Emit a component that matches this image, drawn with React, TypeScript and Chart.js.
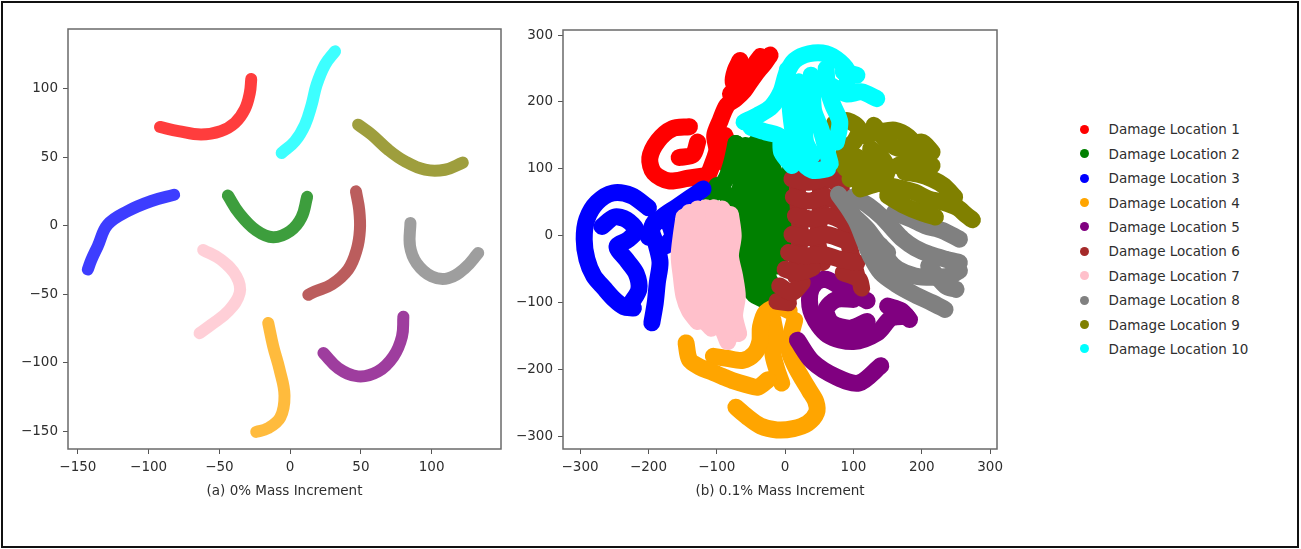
import React, { useEffect, useRef } from 'react';
import { Chart, registerables } from 'chart.js';

Chart.register(...registerables);

type Pt = [number, number];

const damageLabels = [
  'Damage Location 1', 'Damage Location 2', 'Damage Location 3', 'Damage Location 4', 'Damage Location 5',
  'Damage Location 6', 'Damage Location 7', 'Damage Location 8', 'Damage Location 9', 'Damage Location 10',
];
const damageColors = ['#ff0000', '#008000', '#0000ff', '#ffa500', '#800080', '#a52a2a', '#ffc0cb', '#808080', '#808000', '#00ffff'];

const leftTicksX = [-150, -100, -50, 0, 50, 100];
const leftTicksY = [-150, -100, -50, 0, 50, 100];
const rightTicksX = [-300, -200, -100, 0, 100, 200, 300];
const rightTicksY = [-300, -200, -100, 0, 100, 200, 300];

// (a) 0% mass increment: one smooth band per damage location
const leftLoc1: Pt[] = [[-92, 72], [-79, 69], [-63, 66.5], [-49, 69], [-39, 75], [-32, 85], [-28.5, 97], [-27.5, 107]];
const leftLoc2: Pt[] = [[-44, 22], [-36, 9], [-24, -3.5], [-12, -8.5], [0, -4], [8, 6], [12, 21]];
const leftLoc3: Pt[] = [[-82, 22.5], [-98, 18], [-115, 10.5], [-129, 0.7], [-136, -15], [-140.5, -25], [-143, -32]];
const leftLoc4: Pt[] = [[-15.5, -71], [-12, -88], [-7.5, -105], [-4, -124], [-7, -140], [-16, -148], [-24, -150.5]];
const leftLoc5: Pt[] = [[23.5, -93], [34, -104], [48, -110], [62, -106.5], [73, -95.5], [79, -81], [80, -66.5]];
const leftLoc6: Pt[] = [[46.5, 25], [48.8, 11.5], [49.3, -3], [47, -17.7], [41, -32], [29.3, -43], [17.5, -48], [12.8, -50.5]];
const leftLoc7: Pt[] = [[-61.5, -17.7], [-48.7, -25], [-38, -37], [-35.7, -49.3], [-44, -62.7], [-55.8, -72.4], [-64, -78.5]];
const leftLoc8: Pt[] = [[85, 2], [84.7, -15], [89.4, -27.4], [100, -37], [111.7, -38.4], [123.5, -31], [132.9, -20]];
const leftLoc9: Pt[] = [[48, 73.7], [57.6, 66.4], [69.3, 55.4], [81, 47], [95.3, 40.8], [109.4, 40.8], [122, 46]];
const leftLoc10: Pt[] = [[-6, 53], [3.4, 61.6], [10.5, 73.7], [15.2, 88.3], [18.7, 102.8], [24.6, 117.4], [31.7, 127.2]];

// (b) 0.1% mass increment: each location is a set of thick strokes
const rightLoc1: Pt[][] = [
  [[-22, 270], [-30, 258], [-40, 246], [-50, 232], [-60, 217], [-72, 205], [-85, 195], [-95, 172], [-103, 150], [-100, 128], [-106, 108], [-112, 92]],
  [[-36, 268], [-46, 254], [-56, 240], [-66, 226], [-80, 212]],
  [[-66, 262], [-73, 247], [-76, 230], [-68, 214]],
  [[-140, 163], [-165, 160], [-186, 142], [-198, 116], [-192, 94], [-170, 82], [-142, 86], [-116, 90]],
  [[-155, 117], [-135, 121], [-128, 140]],
  [[-88, 150], [-82, 128], [-88, 108]],
];
const rightLoc2: Pt[][] = [
  [[-72, 138], [-78, 110], [-86, 86], [-98, 68], [-110, 60]],
  [[-100, 75], [-85, 60], [-80, 35]],
  [[-72, 138], [-68, 110], [-64, 80], [-72, 50], [-78, 20], [-75, -10], [-70, -40], [-60, -68], [-45, -88], [-32, -95]],
  [[-58, 135], [-56, 105], [-54, 78], [-60, 50], [-64, 20], [-60, -10], [-60, -40], [-52, -65]],
  [[-42, 140], [-46, 110], [-40, 80], [-48, 50], [-52, 20], [-45, -10], [-50, -40], [-40, -70]],
  [[-28, 136], [-32, 110], [-28, 85], [-36, 60], [-36, 30], [-30, 0], [-32, -30], [-38, -60], [-30, -82]],
  [[-14, 132], [-20, 110], [-14, 85], [-24, 60], [-20, 30], [-12, 0], [-18, -30], [-25, -60], [-15, -80]],
  [[4, 125], [8, 100], [0, 78], [-4, 50], [4, 20], [-4, -15], [-10, -45]],
];
const rightLoc3: Pt[][] = [
  [[-200, 42], [-225, 60], [-252, 64], [-275, 50], [-290, 25], [-294, -5], [-290, -35], [-280, -60], [-265, -78], [-250, -95], [-236, -106], [-222, -108]],
  [[-268, 14], [-250, 28], [-232, 24], [-218, 8], [-230, -6], [-246, -16], [-232, -36], [-218, -56], [-214, -80], [-225, -100]],
  [[-120, 70], [-140, 56], [-160, 42], [-180, 28], [-195, 10], [-188, -15], [-183, -40], [-187, -70], [-190, -100], [-195, -130]],
  [[-200, -2], [-190, 22], [-172, 20], [-165, 0], [-175, -15]],
];
const rightLoc4: Pt[][] = [
  [[-145, -160], [-140, -185], [-125, -196], [-108, -203], [-92, -210], [-75, -217], [-58, -222], [-40, -226], [-25, -215]],
  [[-105, -180], [-85, -183], [-62, -186], [-45, -176], [-37, -158], [-36, -136], [-28, -114], [-10, -106], [6, -112]],
  [[14, -126], [8, -150], [6, -172], [15, -195], [26, -215], [36, -232], [45, -248], [46, -264], [33, -280], [12, -288], [-12, -290], [-36, -284], [-56, -270], [-72, -256]],
  [[-18, -125], [-14, -150], [-18, -175], [-12, -200], [-5, -220]],
];
const rightLoc5: Pt[][] = [
  [[120, -97], [90, -82], [60, -65], [45, -70], [36, -88], [40, -118], [62, -148], [100, -158], [135, -145], [155, -123], [178, -120]],
  [[100, -95], [75, -95], [60, -110], [68, -130], [95, -138], [120, -128]],
  [[18, -156], [40, -188], [75, -211], [108, -220], [140, -194]],
  [[150, -105], [170, -112], [182, -125]],
];
const rightLoc6: Pt[][] = [
  [[8, 108], [30, 106], [52, 108], [72, 100]],
  [[10, 85], [35, 80], [60, 86], [82, 75]],
  [[12, 58], [35, 52], [60, 58], [88, 45]],
  [[15, 30], [40, 25], [65, 30], [92, 18]],
  [[10, 2], [35, -3], [60, 2], [95, -10]],
  [[5, -25], [30, -30], [55, -28], [80, -35], [105, -40]],
  [[0, -50], [20, -55], [40, -48]],
  [[85, -55], [108, -65], [112, -78]],
  [[-8, -75], [10, -85], [25, -70]],
  [[-12, -98], [5, -100]],
  [[20, 110], [18, 60], [22, 0], [15, -60]],
  [[50, 108], [52, 50], [48, -10], [55, -40]],
  [[80, 95], [85, 40], [95, -20], [105, -60]],
];
const rightLoc7: Pt[][] = [
  [[-148, 28], [-152, 0], [-155, -30], [-152, -60], [-148, -90], [-140, -112], [-128, -128]],
  [[-140, 35], [-142, 0], [-140, -40], [-138, -80], [-130, -110]],
  [[-128, 40], [-130, 12], [-127, -18], [-134, -48], [-124, -72], [-118, -96], [-124, -118], [-108, -138]],
  [[-116, 42], [-114, 0], [-118, -40], [-110, -80], [-112, -120]],
  [[-104, 42], [-100, 12], [-108, -20], [-100, -50], [-97, -80], [-104, -106], [-94, -132], [-84, -158]],
  [[-92, 40], [-88, 0], [-90, -40], [-86, -80], [-88, -120], [-80, -150]],
  [[-80, 32], [-76, 0], [-80, -30], [-74, -60], [-70, -90], [-74, -120], [-68, -146]],
];
const rightLoc8: Pt[][] = [
  [[78, 62], [92, 42], [105, 20], [115, -5], [125, -30], [140, -55], [162, -72], [190, -88], [215, -100], [234, -110]],
  [[100, 58], [122, 45], [142, 28], [158, 10], [172, -5], [190, -18], [212, -28], [235, -35], [255, -40]],
  [[100, 30], [120, 10], [135, -10], [150, -25]],
  [[140, -15], [150, -35], [165, -50], [190, -60], [215, -62], [240, -60], [255, -52]],
  [[160, 35], [185, 25], [205, 15], [230, 8], [255, -5]],
  [[210, -45], [235, -75], [250, -80]],
];
const rightLoc9: Pt[][] = [
  [[72, 168], [92, 172], [108, 160], [102, 142], [88, 128], [84, 108], [96, 96], [115, 102]],
  [[115, 150], [138, 155], [160, 158], [180, 148], [192, 130], [185, 112], [165, 105]],
  [[130, 165], [150, 140], [170, 130], [200, 140], [215, 125]],
  [[100, 120], [120, 110], [135, 100]],
  [[125, 130], [140, 118], [150, 100], [142, 82], [125, 75], [110, 70]],
  [[95, 85], [120, 88], [140, 78], [165, 72], [190, 65], [210, 55], [232, 50], [252, 42], [266, 30], [274, 24]],
  [[175, 95], [195, 92], [215, 85], [232, 75], [248, 58]],
  [[200, 115], [215, 105]],
  [[150, 60], [175, 45], [198, 35], [220, 28]],
];
const rightLoc10: Pt[][] = [
  [[-60, 170], [-40, 180], [-20, 193], [-6, 215], [2, 242], [14, 262], [35, 272], [60, 272], [80, 260], [92, 244], [90, 226]],
  [[68, 224], [90, 212], [112, 215], [134, 205]],
  [[3, 248], [6, 215], [8, 185], [11, 160], [15, 138], [22, 115], [40, 98], [62, 100]],
  [[20, 230], [25, 200], [28, 170], [30, 140], [40, 120]],
  [[38, 240], [40, 212], [42, 186], [52, 160], [58, 138], [66, 108]],
  [[60, 250], [62, 220], [70, 195], [80, 170], [75, 140]],
  [[-50, 162], [-28, 155], [-8, 148], [-5, 125], [10, 105]],
  [[85, 245], [105, 240]],
];

const leftCurves = [leftLoc1, leftLoc2, leftLoc3, leftLoc4, leftLoc5, leftLoc6, leftLoc7, leftLoc8, leftLoc9, leftLoc10];
const rightClusters = [rightLoc1, rightLoc2, rightLoc3, rightLoc4, rightLoc5, rightLoc6, rightLoc7, rightLoc8, rightLoc9, rightLoc10];

const FONT = "'DejaVu Sans', 'Liberation Sans', sans-serif";
const TEXT = '#2e2e2e';

function withAlpha(hex: string, a: number) {
  const n = parseInt(hex.slice(1), 16);
  return `rgba(${(n >> 16) & 255}, ${(n >> 8) & 255}, ${n & 255}, ${a})`;
}

const fmt = (v: number | string) => String(v).replace('-', '\u2212');

const framePlugin = {
  id: 'axesFrame',
  afterDraw(chart: Chart) {
    const { ctx, chartArea: a } = chart;
    ctx.save();
    ctx.strokeStyle = '#6a6a6a';
    ctx.lineWidth = 1.5;
    ctx.strokeRect(a.left, a.top, a.right - a.left, a.bottom - a.top);
    ctx.restore();
  },
};

function axis(min: number, max: number, ticks: number[], size: number, horizontal: boolean, title?: string) {
  return {
    type: 'linear' as const,
    min,
    max,
    border: { display: false },
    grid: { display: true, drawOnChartArea: false, drawTicks: true, tickLength: 5, tickColor: '#555', tickWidth: 1 },
    ticks: { color: TEXT, font: { family: FONT, size: 13.5 }, padding: 5, maxRotation: 0, autoSkip: false, callback: (v: number | string) => fmt(v) },
    afterBuildTicks: (s: any) => { s.ticks = ticks.map((value) => ({ value })); },
    afterFit: (s: any) => { if (horizontal) s.height = size; else s.width = size; },
    title: title
      ? { display: true, text: title, color: TEXT, font: { family: FONT, size: 13.5 }, padding: { top: 0, bottom: 49 } }
      : { display: false },
  };
}

function ScatterPanel(props: {
  left: number; width: number; datasets: any[]; pad: { top: number; right: number };
  yWidth: number; xr: [number, number]; yr: [number, number]; xt: number[]; yt: number[]; title: string;
}) {
  const ref = useRef<HTMLCanvasElement>(null);
  useEffect(() => {
    const chart = new Chart(ref.current!, {
      type: 'scatter',
      data: { datasets: props.datasets },
      options: {
        animation: false,
        responsive: false,
        maintainAspectRatio: false,
        events: [],
        layout: { padding: { left: 0, top: props.pad.top, right: props.pad.right, bottom: 0 } },
        plugins: { legend: { display: false }, tooltip: { enabled: false } },
        scales: {
          x: axis(props.xr[0], props.xr[1], props.xt, 100, true, props.title),
          y: axis(props.yr[0], props.yr[1], props.yt, props.yWidth, false),
        },
      } as any,
      plugins: [framePlugin],
    });
    return () => chart.destroy();
  }, []);
  return (
    <canvas ref={ref} width={props.width} height={549}
      style={{ position: 'absolute', left: props.left, top: 0, width: props.width, height: 549 }} />
  );
}

const lineBase = { showLine: true, pointRadius: 0, borderCapStyle: 'round', borderJoinStyle: 'round', fill: false };

const leftDatasets = leftCurves.map((pts, i) => ({
  ...lineBase,
  label: damageLabels[i],
  data: pts.map(([x, y]) => ({ x, y })),
  borderColor: withAlpha(damageColors[i], 0.76),
  borderWidth: 12,
  tension: 0.4,
  order: -i,
}));

const rightDatasets = rightClusters.flatMap((strokes, i) =>
  strokes.map((pts) => ({
    ...lineBase,
    label: damageLabels[i],
    data: pts.map(([x, y]) => ({ x, y })),
    borderColor: damageColors[i],
    borderWidth: 17,
    tension: 0.3,
    order: -i,
  })),
);

export default function App() {
  return (
    <div style={{ position: 'absolute', left: 0, top: 0, width: 1301, height: 549, background: '#fff', overflow: 'hidden' }}>
      <div style={{ position: 'absolute', left: 1, top: 1, width: 1298, height: 547, border: '2px solid #111', boxSizing: 'border-box' }} />
      <ScatterPanel left={0} width={520} datasets={leftDatasets} pad={{ top: 29, right: 19 }} yWidth={68}
        xr={[-157, 149]} yr={[-163, 143.5]} xt={leftTicksX} yt={leftTicksY} title="(a) 0% Mass Increment" />
      <ScatterPanel left={500} width={510} datasets={rightDatasets} pad={{ top: 30, right: 13 }} yWidth={63}
        xr={[-325, 310]} yr={[-318.5, 307.5]} xt={rightTicksX} yt={rightTicksY} title="(b) 0.1% Mass Increment" />
      {damageLabels.map((label, i) => (
        <div key={label} style={{ position: 'absolute', left: 1078, top: 129.3 + i * 24.4 - 10, height: 20, display: 'flex', alignItems: 'center' }}>
          <span style={{ display: 'inline-block', width: 9, height: 9, borderRadius: '50%', background: damageColors[i], marginLeft: 1.5 }} />
          <span style={{ marginLeft: 20, fontFamily: FONT, fontSize: 13.5, color: TEXT, whiteSpace: 'nowrap' }}>{label}</span>
        </div>
      ))}
    </div>
  );
}
